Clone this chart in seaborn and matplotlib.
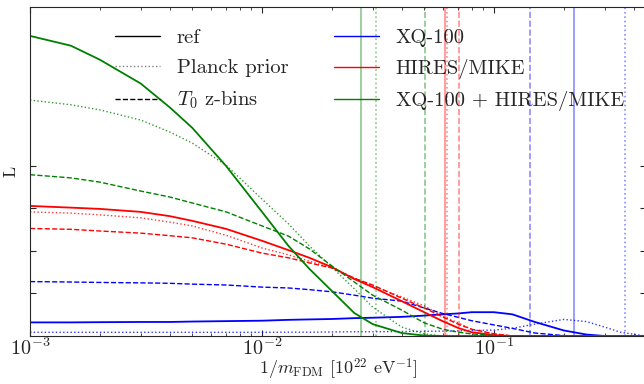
import numpy as np
import pandas as pd
import matplotlib
matplotlib.use("Agg")
import matplotlib.pyplot as plt
import seaborn as sns
from matplotlib.lines import Line2D
from matplotlib.ticker import FixedLocator, NullFormatter

sns.set_style("ticks")
plt.rcParams['font.family'] = ['cmr10', 'DejaVu Serif']
plt.rcParams['mathtext.fontset'] = 'cm'
plt.rcParams['axes.unicode_minus'] = False
plt.rcParams['axes.formatter.use_mathtext'] = True

# 1/m_FDM grid [1e22 eV^-1]
inv_m = [1e-3, 1.5e-3, 2e-3, 3e-3, 4e-3, 5e-3, 7e-3, 1e-2, 1.3e-2, 1.6e-2, 2e-2, 2.5e-2, 3e-2,
         4e-2, 5e-2, 6e-2, 7e-2, 8e-2, 0.1, 0.12, 0.15, 0.2, 0.25, 0.3, 0.35, 0.45]

# likelihood curves (arbitrary units)
xq_ref = [3.2, 3.2, 3.25, 3.3, 3.3, 3.4, 3.5, 3.6, 3.8, 3.9, 4.0, 4.2, 4.3,
          4.5, 4.8, 5.1, 5.3, 5.6, 5.6, 5.1, 3.3, 1.3, 0.35, 0, 0, 0]
xq_planck = [0.87, 0.87, 0.87, 0.87, 0.87, 0.87, 0.87, 0.87, 0.9, 0.9, 0.95, 1.0, 1.0,
             1.05, 1.1, 1.15, 1.2, 1.3, 1.4, 1.8, 2.8, 3.9, 3.4, 2.1, 0.9, 0.0]
xq_zbins = [12.8, 12.7, 12.6, 12.5, 12.4, 12.2, 12.0, 11.5, 11.3, 10.9, 10.4, 9.6, 8.9,
            8.2, 6.6, 5.3, 4.4, 3.6, 2.6, 1.8, 0.7, 0.1, 0, 0, 0, 0]

hm_ref = [30.6, 30.2, 29.9, 29.2, 28.2, 27.1, 25.2, 22.4, 20.2, 18.4, 16.2, 13.4, 11.5,
          8.2, 5.6, 3.5, 1.9, 0.9, 0.2, 0, 0, 0, 0, 0, 0, 0]
hm_planck = [29.2, 28.9, 28.5, 27.8, 26.8, 25.9, 23.7, 20.7, 19.1, 17.6, 16.0, 13.6, 11.8,
             9.2, 7.1, 4.7, 3.1, 1.6, 0.5, 0, 0, 0, 0, 0, 0, 0]
hm_zbins = [25.3, 25.1, 24.7, 24.2, 23.6, 23.1, 21.6, 19.5, 18.4, 17.2, 16.0, 13.6, 12.0,
            8.9, 6.6, 4.5, 2.8, 1.6, 0.5, 0, 0, 0, 0, 0, 0, 0]

both_ref = [70.6, 68.3, 65.0, 59.4, 53.8, 49.0, 40.0, 29.2, 21.2, 15.8, 10.6, 5.4, 2.8,
            0.7, 0.1, 0, 0, 0, 0, 0, 0, 0, 0, 0, 0, 0]
both_planck = [55.5, 54.4, 53.2, 50.8, 48.0, 45.4, 40.2, 32.2, 26.4, 21.2, 16.2, 11.1, 6.8,
               2.1, 0.5, 0, 0, 0, 0, 0, 0, 0, 0, 0, 0, 0]
both_zbins = [37.95, 37.2, 36.2, 34.1, 32.7, 31.3, 29.2, 25.9, 23.5, 20.5, 16.5, 12.7, 9.6,
              6.1, 3.1, 1.6, 0.9, 0.5, 0.1, 0, 0, 0, 0, 0, 0, 0]

# 95% limits (vertical lines)
xq_limits = [0.221, 0.368, 0.143]       # ref, planck, z-bins
hm_limits = [0.0615, 0.0625, 0.0705]
both_limits = [0.0266, 0.031, 0.0505]

datasets = ['XQ-100', 'HIRES/MIKE', 'XQ-100 + HIRES/MIKE']
colors = ['#0000ff', '#ff0000', '#008000']
variants = ['ref', 'Planck prior', r'$T_0$ z-bins']
styles = ['-', ':', '--']

curves = {
    'XQ-100': [xq_ref, xq_planck, xq_zbins],
    'HIRES/MIKE': [hm_ref, hm_planck, hm_zbins],
    'XQ-100 + HIRES/MIKE': [both_ref, both_planck, both_zbins],
}
limits = {'XQ-100': xq_limits, 'HIRES/MIKE': hm_limits, 'XQ-100 + HIRES/MIKE': both_limits}

fig = plt.figure(figsize=(6.44, 3.84), dpi=100)
ax = fig.add_axes([30 / 644, 48 / 384, 616 / 644, 329 / 384])

for name, col in zip(datasets, colors):
    for vals, ls, var in zip(curves[name], styles, variants):
        df = pd.DataFrame({'x': inv_m, 'L': vals})
        lw = 1.3 if ls == '-' else 1.0
        sns.lineplot(data=df, x='x', y='L', ax=ax, color=col, linestyle=ls, lw=lw,
                     alpha=1.0 if ls != ':' else 0.8)
    for lim, ls in zip(limits[name], styles):
        ax.axvline(lim, color=col, linestyle=ls, lw=1.2, alpha=0.45)

ax.set_xscale('log')
ax.set_xlim(1e-3, 10 ** (-3 + 616 / 232))
ax.set_ylim(0, 77.4)
ax.yaxis.set_major_locator(FixedLocator([10, 20, 30, 40]))
ax.yaxis.set_major_formatter(NullFormatter())
ax.tick_params(which='both', direction='in', top=True, right=True)
ax.tick_params(which='major', length=4, labelsize=14.5, pad=1)
ax.tick_params(which='minor', length=2)
ax.set_xlabel(r'$1/m_{\rm FDM}$ [$10^{22}$ eV$^{-1}$]', fontsize=13, labelpad=-2)
ax.set_ylabel('L', fontsize=13, labelpad=7)

h1 = [Line2D([], [], color='k', ls='-', lw=1.0),
      Line2D([], [], color='grey', ls=':', lw=1.0),
      Line2D([], [], color='k', ls='--', lw=1.0)]
leg1 = ax.legend(h1, variants, loc='upper left', bbox_to_anchor=(0.138, 0.935), frameon=False,
                 fontsize=14.8, handlelength=2.2, handletextpad=0.8, labelspacing=0.6,
                 borderaxespad=0, borderpad=0)
ax.add_artist(leg1)
h2 = [Line2D([], [], color=c, ls='-', lw=1.0) for c in colors]
ax.legend(h2, datasets, loc='upper left', bbox_to_anchor=(0.4935, 0.935), frameon=False,
          fontsize=14.8, handlelength=2.2, handletextpad=0.8, labelspacing=0.6,
          borderaxespad=0, borderpad=0)

fig.savefig('out.png', dpi=100)
